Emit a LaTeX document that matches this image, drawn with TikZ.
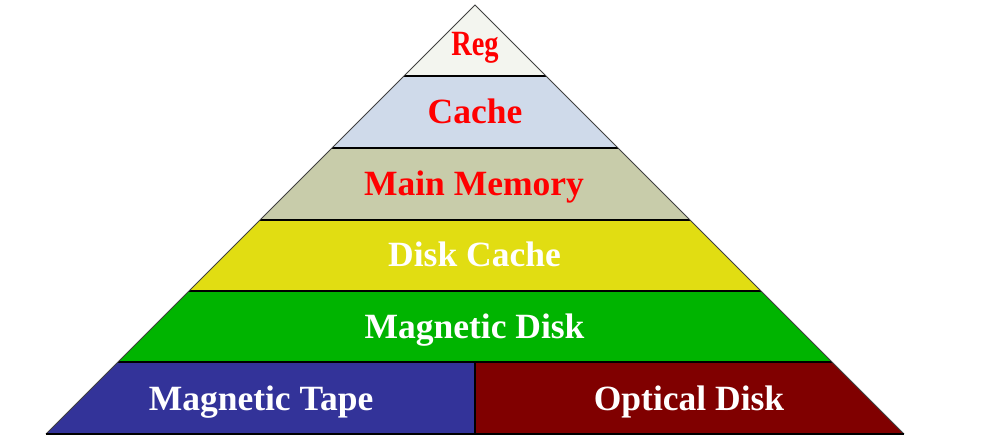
\documentclass[tikz,border=0pt]{standalone}
\usepackage{fontspec}
\setmainfont{Liberation Serif}
\begin{document}
\begin{tikzpicture}[x=1pt,y=-1pt,
  divider/.style={draw=black,line width=1.6pt},
  edge/.style={draw=black!75,line width=1pt,line join=miter},
  lbl/.style={font=\fontsize{35.5}{40}\selectfont\bfseries,inner sep=0pt,anchor=base}]
\useasboundingbox (0,0) rectangle (999,437);
% colours of the levels
\definecolor{regC}{HTML}{F3F5EF}
\definecolor{cacheC}{HTML}{CFDAEA}
\definecolor{mainC}{HTML}{C8CCAA}
\definecolor{dcacheC}{HTML}{E1DD12}
\definecolor{mdiskC}{HTML}{00B400}
\definecolor{tapeC}{HTML}{333399}
\definecolor{optC}{HTML}{800000}
% level fills (apex at 475,5; slope 1:1)
\fill[regC]   (475,5) -- (546,76) -- (404,76) -- cycle;
\fill[cacheC] (404,76) -- (546,76) -- (618,148) -- (332,148) -- cycle;
\fill[mainC]  (332,148) -- (618,148) -- (690,220) -- (260,220) -- cycle;
\fill[dcacheC](260,220) -- (690,220) -- (761,291) -- (189,291) -- cycle;
\fill[mdiskC] (189,291) -- (761,291) -- (832,362) -- (118,362) -- cycle;
\fill[tapeC]  (118,362) -- (475,362) -- (475,434) -- (46,434) -- cycle;
\fill[optC]   (475,362) -- (832,362) -- (904,434) -- (475,434) -- cycle;
% level dividers
\draw[divider] (404,76) -- (546,76);
\draw[divider] (332,148) -- (618,148);
\draw[divider] (260,220) -- (690,220);
\draw[divider] (189,291) -- (761,291);
\draw[divider] (118,362) -- (832,362);
\draw[divider] (475,362) -- (475,434);
% outline
\draw[edge] (46,434) -- (475,5) -- (904,434);
\draw[divider] (46,434) -- (904,434);
% labels
\node[lbl,text=red]   (reg)    at (475,55)  {\scalebox{0.8}[1]{Reg}};
\node[lbl,text=red]   (cache)  at (475,123) {Cache};
\node[lbl,text=red]   (main)   at (474,195) {Main Memory};
\node[lbl,text=white] (dcache) at (474.5,266) {Disk Cache};
\node[lbl,text=white] (mdisk)  at (474.5,338) {Magnetic Disk};
\node[lbl,text=white] (tape)   at (261,410) {Magnetic Tape};
\node[lbl,text=white] (opt)    at (689,410) {Optical Disk};
\end{tikzpicture}
\end{document}
